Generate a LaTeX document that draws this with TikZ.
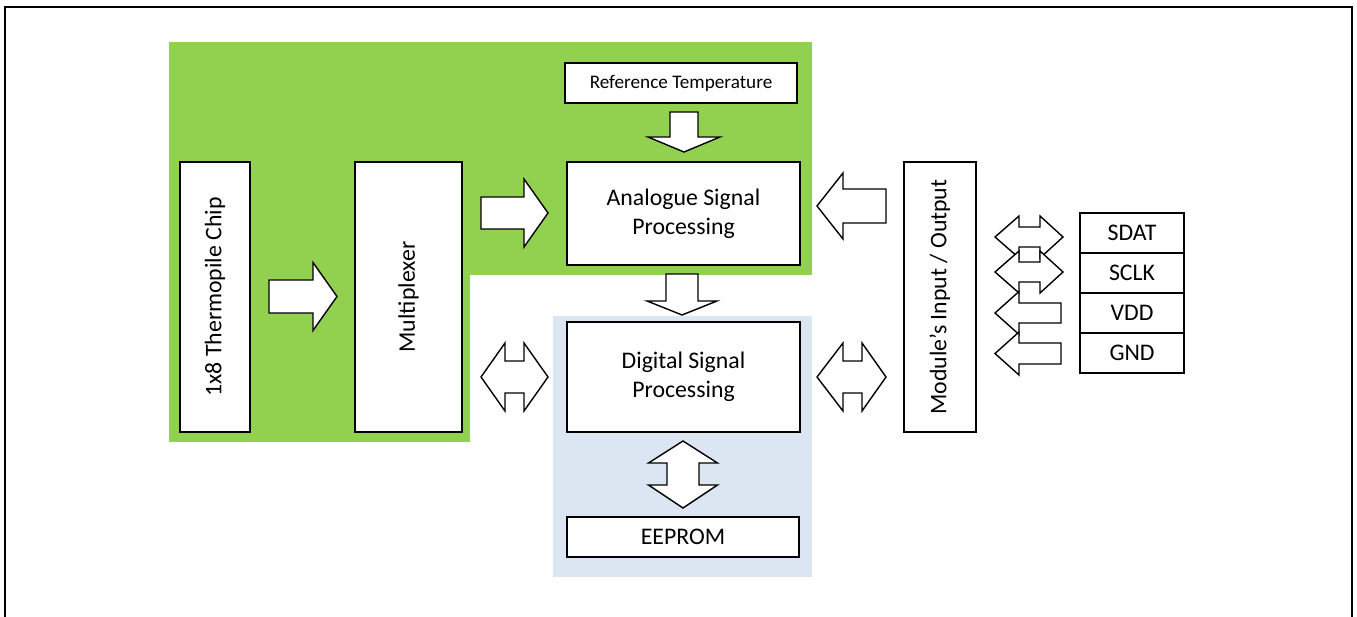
\documentclass[tikz,border=0pt]{standalone}
\usepackage{fontspec}
\setmainfont{Carlito}
\definecolor{grn}{RGB}{146,208,80}
\definecolor{lblue}{RGB}{220,230,242}
% block arrows: tail, head base, tip, centre, shaft half-width, head half-width
\newcommand\harr[6]{\draw[barrow] (#1,#4-#5) -- (#2,#4-#5) -- (#2,#4-#6) -- (#3,#4) -- (#2,#4+#6) -- (#2,#4+#5) -- (#1,#4+#5) -- cycle;}
\newcommand\varr[6]{\draw[barrow] (#4-#5,#1) -- (#4-#5,#2) -- (#4-#6,#2) -- (#4,#3) -- (#4+#6,#2) -- (#4+#5,#2) -- (#4+#5,#1) -- cycle;}
% double arrows: tip1, base1, base2, tip2, centre, shaft half, head half
\newcommand\hdarr[7]{\draw[barrow] (#1,#5) -- (#2,#5-#7) -- (#2,#5-#6) -- (#3,#5-#6) -- (#3,#5-#7) -- (#4,#5) -- (#3,#5+#7) -- (#3,#5+#6) -- (#2,#5+#6) -- (#2,#5+#7) -- cycle;}
\newcommand\vdarr[7]{\draw[barrow] (#5,#1) -- (#5-#7,#2) -- (#5-#6,#2) -- (#5-#6,#3) -- (#5-#7,#3) -- (#5,#4) -- (#5+#7,#3) -- (#5+#6,#3) -- (#5+#6,#2) -- (#5+#7,#2) -- cycle;}
\begin{document}
\begin{tikzpicture}[x=1pt,y=-1pt,
  box/.style={draw, line width=1.8pt, fill=white, inner sep=0pt, align=center,
    font=\fontsize{23.8}{29}\selectfont},
  barrow/.style={draw, line width=1.4pt, fill=white, line join=miter}]
\useasboundingbox (0,0) rectangle (1357,617);
\clip (0,0) rectangle (1357,617);
% frame
\draw[line width=2.2pt] (5,640) -- (5,7) -- (1352,7) -- (1352,640);
% backgrounds
\fill[grn] (169,42) rectangle (812,275);
\fill[grn] (169,274) rectangle (470,442);
\fill[lblue] (553,316) rectangle (812,577);
% boxes
\node[box, rotate=90, minimum width=270, minimum height=70] (chip) at (215,297) {1x8 Thermopile Chip};
\node[box, rotate=90, minimum width=270, minimum height=107] (mux) at (408.5,297) {Multiplexer};
\node[box, minimum width=232, minimum height=40, font=\fontsize{19.2}{22}\selectfont] (ref) at (681,83) {Reference Temperature};
\node[box, minimum width=233, minimum height=103] (ana) at (683.5,213.5) {Analogue Signal\\Processing};
\node[box, minimum width=233, minimum height=110] (dig) at (683.5,377) {Digital Signal\\Processing};
\node[box, minimum width=232, minimum height=40] (eep) at (683,537) {EEPROM};
\node[box, rotate=90, minimum width=270, minimum height=72] (mio) at (940,297) {Module’s Input / Output};
\node[box, minimum width=104, minimum height=40] (sdat) at (1132,233) {SDAT};
\node[box, minimum width=104, minimum height=40] (sclk) at (1132,273) {SCLK};
\node[box, minimum width=104, minimum height=40] (vdd) at (1132,313) {VDD};
\node[box, minimum width=104, minimum height=40] (gnd) at (1132,353) {GND};
% block arrows
\harr{269}{313}{337}{296.5}{16.5}{34}
\harr{481}{524}{548}{213}{16}{34}
\hdarr{481}{505}{524}{548}{377}{16}{34}
\varr{112}{137}{152}{684}{14}{36}
\varr{274}{301}{315}{682}{16}{35}
\vdarr{441}{463}{485}{508}{683}{16}{34.5}
\harr{886}{843}{817}{206}{17}{33}
\hdarr{817}{843}{862}{886}{377}{16}{34}
\hdarr{995}{1019}{1040}{1063}{237}{10}{21}
\hdarr{995}{1019}{1040}{1063}{272}{10}{21}
\harr{1061}{1019}{995}{313}{10}{21.5}
\harr{1061}{1019}{995}{353.5}{10.5}{21.5}
\end{tikzpicture}
\end{document}
